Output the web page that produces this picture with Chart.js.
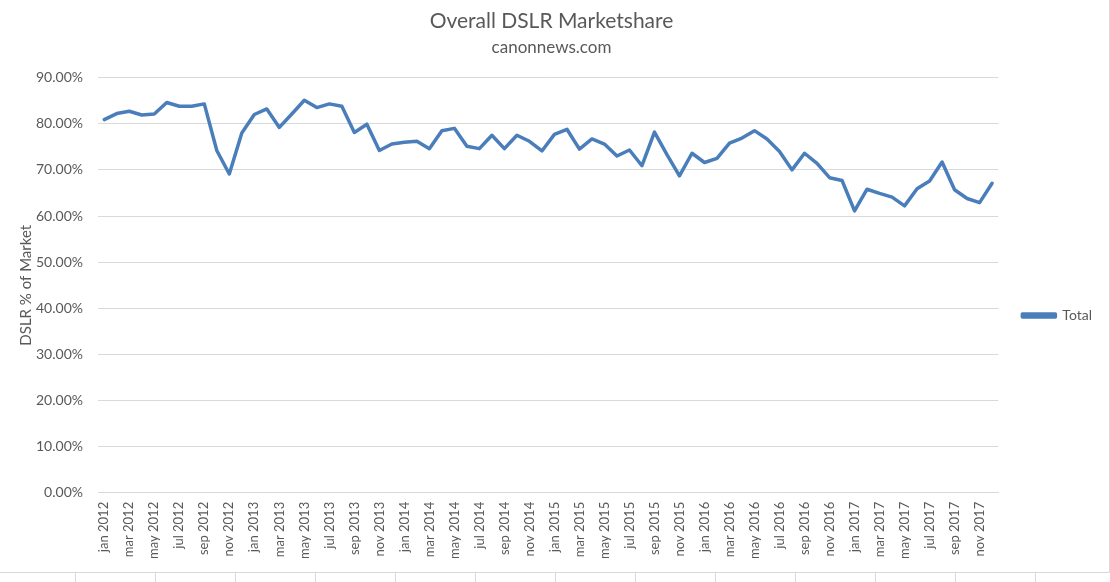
<!DOCTYPE html>
<html>
<head>
<meta charset="utf-8">
<script src="https://cdn.jsdelivr.net/npm/chart.js@4"></script>
<style>
  html, body { margin: 0; padding: 0; background: #ffffff; }
  #wrap { position: relative; width: 1110px; height: 582px; }
  canvas { display: block; }
</style>
</head>
<body>
<div id="wrap"><canvas id="c" width="1110" height="582"></canvas></div>
<script>
const months = ['jan','feb','mar','apr','may','jun','jul','aug','sep','oct','nov','dec'];
const years = [2012, 2013, 2014, 2015, 2016, 2017];
const categories = [];
years.forEach(y => months.forEach(m => categories.push(m + ' ' + y)));

const seriesName = 'Total';
const totalShare = [
  80.9, 82.2, 82.7, 81.9, 82.1, 84.6, 83.8, 83.8, 84.3, 74.2, 69.1, 78.0,
  82.0, 83.2, 79.2, 82.1, 85.1, 83.5, 84.3, 83.8, 78.1, 79.9, 74.2, 75.6,
  76.0, 76.2, 74.6, 78.5, 79.0, 75.1, 74.6, 77.5, 74.6, 77.5, 76.2, 74.1,
  77.7, 78.8, 74.5, 76.7, 75.6, 73.0, 74.3, 70.9, 78.2, 73.3, 68.7, 73.6,
  71.6, 72.5, 75.8, 76.9, 78.5, 76.7, 74.0, 70.0, 73.6, 71.4, 68.3, 67.7,
  61.1, 65.8, 64.9, 64.1, 62.2, 65.9, 67.6, 71.7, 65.7, 63.8, 62.9, 67.1
];
const yTicks = [0, 10, 20, 30, 40, 50, 60, 70, 80, 90];

const FONT = 'Lato, "Open Sans", sans-serif';
const GREY = '#595959';
const GRID = '#d9d9d9';
const BLUE = '#4a7ebb';

const frame = {
  id: 'frame',
  afterDraw(chart) {
    const ctx = chart.ctx;
    ctx.save();
    ctx.strokeStyle = GRID;
    ctx.lineWidth = 1;
    ctx.beginPath();
    ctx.moveTo(0, 572.5); ctx.lineTo(1109.5, 572.5);
    ctx.moveTo(1109.5, 0); ctx.lineTo(1109.5, 572.5);
    for (let x = 75.5; x < 1110; x += 80) {
      ctx.moveTo(x, 573); ctx.lineTo(x, 582);
    }
    ctx.stroke();
    ctx.restore();
  }
};

new Chart(document.getElementById('c'), {
  type: 'line',
  data: {
    labels: categories,
    datasets: [{
      label: seriesName,
      data: totalShare,
      borderColor: BLUE,
      backgroundColor: BLUE,
      borderWidth: 3.5,
      pointRadius: 0,
      tension: 0,
      borderJoinStyle: 'round',
      borderCapStyle: 'round'
    }]
  },
  options: {
    responsive: false,
    animation: false,
    devicePixelRatio: 1,
    layout: { padding: { left: 1, right: 8, top: 0, bottom: 14 } },
    plugins: {
      title: {
        display: true,
        text: 'Overall DSLR Marketshare',
        color: GREY,
        font: { family: FONT, size: 21, weight: 'normal' },
        padding: { top: 9, bottom: 3 }
      },
      subtitle: {
        display: true,
        text: 'canonnews.com',
        color: GREY,
        font: { family: FONT, size: 17, weight: 'normal' },
        padding: { top: 0, bottom: 20 }
      },
      legend: {
        position: 'right',
        title: {
          display: true,
          text: ' ',
          font: { family: FONT, size: 10 },
          padding: { top: 0, bottom: 51 }
        },
        labels: {
          color: GREY,
          font: { family: FONT, size: 14 },
          boxWidth: 33,
          boxHeight: 3,
          padding: 24
        }
      },
      tooltip: { enabled: false }
    },
    scales: {
      x: {
        type: 'category',
        offset: true,
        grid: { display: false, drawTicks: false },
        border: { display: true, color: GRID, width: 1 },
        ticks: {
          color: GREY,
          font: { family: FONT, size: 13 },
          autoSkip: false,
          minRotation: 90,
          maxRotation: 90,
          padding: 9,
          callback: function(v, i) { return i % 2 === 0 ? categories[i] : ''; }
        }
      },
      y: {
        min: 0,
        max: 90,
        afterBuildTicks: function(axis) { axis.ticks = yTicks.map(v => ({ value: v })); },
        afterFit: function(axis) { axis.width = 97; },
        grid: { color: GRID, drawTicks: false },
        border: { display: false },
        ticks: {
          color: GREY,
          font: { family: FONT, size: 14 },
          padding: 15,
          callback: function(v) { return v.toFixed(2) + '%'; }
        },
        title: {
          display: true,
          text: 'DSLR % of Market',
          color: GREY,
          font: { family: FONT, size: 15 },
          padding: { top: 16, bottom: 3 }
        }
      }
    }
  },
  plugins: [frame]
});
</script>
</body>
</html>
